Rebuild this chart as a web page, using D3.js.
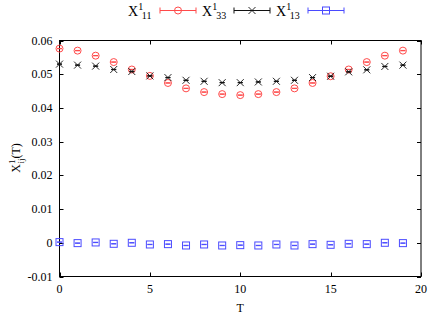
<!DOCTYPE html>
<html><head><meta charset="utf-8">
<script src="https://cdn.jsdelivr.net/npm/d3@7"></script>
<style>
html,body{margin:0;padding:0;background:#fff;}
</style></head>
<body><svg id="c" width="436" height="318"></svg>
<script>
const T = d3.range(0, 20);
const x11 = [0.0576,0.0570,0.0555,0.0536,0.0514,0.0495,0.0474,0.0458,0.0447,0.0441,0.0438,0.0441,0.0447,0.0458,0.0474,0.0494,0.0514,0.0536,0.0555,0.0570];
const x33 = [0.0530,0.0527,0.0524,0.0514,0.0508,0.0495,0.0490,0.0482,0.0479,0.0475,0.0475,0.0477,0.0479,0.0482,0.0490,0.0494,0.0507,0.0513,0.0523,0.0527];
const x13 = [0.0002,-0.0001,0.0001,-0.0003,0.0000,-0.0005,-0.0004,-0.0008,-0.0005,-0.0008,-0.0007,-0.0008,-0.0005,-0.0008,-0.0004,-0.0006,-0.0003,-0.0004,0.0000,-0.0001];
const err11 = T.map(() => 0.00005), err33 = T.map(() => 0.00005), err13 = T.map(() => 0.00005);
const xTicks = [0,5,10,15,20];
const yTicks = [-0.01,0,0.01,0.02,0.03,0.04,0.05,0.06];
const seriesNames = ["11","33","13"];

const L = 59.5, R = 421, Tp = 40.5, B = 276.5;
const svg = d3.select("#c");
const xs = d3.scaleLinear().domain([0,20]).range([L,R]);
const ys = d3.scaleLinear().domain([-0.01,0.06]).range([B,Tp]);
const tl = 4;
const FF = '"Liberation Serif"';

svg.append("rect").attr("x",L).attr("y",Tp).attr("width",R-L).attr("height",B-Tp)
  .attr("fill","none").attr("stroke","#000").attr("stroke-width",1);

const g = svg.append("g").attr("stroke","#000").attr("stroke-width",1);
xTicks.forEach(v=>{
  const px = Math.round(xs(v))+0.5;
  g.append("line").attr("x1",px).attr("x2",px).attr("y1",B).attr("y2",B-tl);
  g.append("line").attr("x1",px).attr("x2",px).attr("y1",Tp).attr("y2",Tp+tl);
});
yTicks.forEach(v=>{
  const py = Math.round(ys(v))+0.5;
  g.append("line").attr("x1",L).attr("x2",L+tl).attr("y1",py).attr("y2",py);
  g.append("line").attr("x1",R).attr("x2",R-tl).attr("y1",py).attr("y2",py);
});
const fmtY = v => v===0 ? "0" : d3.format(".2f")(v).replace("−","-");
yTicks.forEach(v=>{
  svg.append("text").style("font-family",FF).attr("x",L-7).attr("y",ys(v)+4).attr("text-anchor","end")
    .attr("font-size",12).text(fmtY(v));
});
xTicks.forEach(v=>{
  svg.append("text").style("font-family",FF).attr("x",xs(v)).attr("y",293).attr("text-anchor","middle")
    .attr("font-size",12).text(v);
});
svg.append("text").style("font-family",FF).attr("x",(L+R)/2).attr("y",312).attr("text-anchor","middle").attr("font-size",12).text("T");

const yl = svg.append("text").style("font-family",FF).attr("transform","translate(20,158) rotate(-90)")
  .attr("text-anchor","middle").attr("font-size",12);
yl.append("tspan").text("X");
yl.append("tspan").attr("dy",-5).attr("font-size",9).text("1");
yl.append("tspan").attr("dy",9).attr("dx",-4).attr("font-size",9).text("ij");
yl.append("tspan").attr("dy",-4).text("(T)");

const colors = ["#ff4a4a","#111111","#4a4aff"];
function drawMarker(sel, kind, cx, cy, col){
  if(kind===0){
    sel.append("circle").attr("cx",cx).attr("cy",cy).attr("r",3.5).attr("fill","none").attr("stroke",col).attr("stroke-width",1);
  } else if(kind===1){
    const s=3.5;
    sel.append("path").attr("d",`M${cx-s},${cy-s}L${cx+s},${cy+s}M${cx-s},${cy+s}L${cx+s},${cy-s}`).attr("stroke",col).attr("stroke-width",0.9).attr("fill","none");
  } else {
    const s=3.5;
    sel.append("rect").attr("x",cx-s).attr("y",cy-s).attr("width",2*s).attr("height",2*s).attr("fill","none").attr("stroke",col).attr("stroke-width",1);
  }
}
function drawErr(sel, cx, y1, y2, col){
  const c=2.5;
  sel.append("path").attr("d",`M${cx},${y1}L${cx},${y2}M${cx-c},${y1}L${cx+c},${y1}M${cx-c},${y2}L${cx+c},${y2}`)
    .attr("stroke",col).attr("stroke-width",1).attr("fill","none");
}
const data = [[x11,err11],[x33,err33],[x13,err13]];
data.forEach(([vals,errs],k)=>{
  const gg = svg.append("g");
  vals.forEach((v,i)=>{
    const cx = xs(T[i]);
    drawErr(gg, cx, ys(v+errs[i]), ys(v-errs[i]), colors[k]);
    drawMarker(gg, k, cx, ys(v), colors[k]);
  });
});

const legX = [128, 202, 276];
seriesNames.forEach((n,k)=>{
  const x0 = legX[k];
  const t = svg.append("text").style("font-family",FF).attr("x",x0).attr("y",15.5).attr("font-size",14);
  t.append("tspan").text("X");
  t.append("tspan").attr("dy",-6).attr("font-size",10).text("1");
  t.append("tspan").attr("dy",9).attr("dx",-1).attr("font-size",10).text(n);
  const lx1 = x0+32, lx2 = x0+68, ly = 10.5;
  svg.append("path").attr("d",`M${lx1},${ly}L${lx2},${ly}M${lx1},${ly-3}L${lx1},${ly+3}M${lx2},${ly-3}L${lx2},${ly+3}`)
    .attr("stroke",colors[k]).attr("stroke-width",1).attr("fill","none");
  drawMarker(svg, k, (lx1+lx2)/2, ly, colors[k]);
});
</script></body></html>
